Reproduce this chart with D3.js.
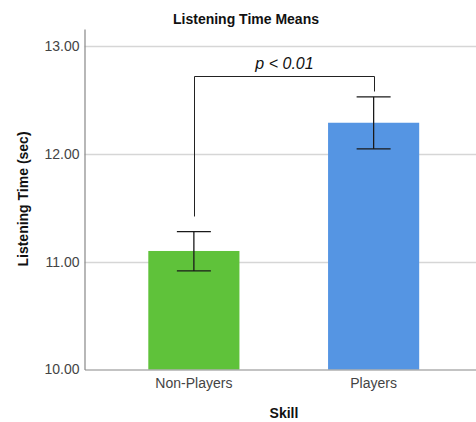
<!DOCTYPE html>
<html>
<head>
<meta charset="utf-8">
<script src="https://cdn.jsdelivr.net/npm/d3@7"></script>
<style>
  html, body { margin: 0; padding: 0; background: #fff; }
  svg { display: block; font-family: Arial, "Liberation Sans", sans-serif; }
</style>
</head>
<body>
<svg id="chart" width="476" height="422"></svg>
<script>
// Group means with 95% CI bounds (seconds)
const categories = ["Non-Players", "Players"];
const means = [11.10, 12.29];
const ciLow = [10.915, 12.047];
const ciHigh = [11.28, 12.53];
const colors = ["#5fc23a", "#5595e3"];
const yTicks = [10, 11, 12, 13];
// Significance bracket: foot heights for each group and the top bar height
const bracketFeet = [11.42, 12.58];
const bracketTop = 12.725;
const bracketLabel = "p < 0.01";

const svg = d3.select("#chart");
const plotLeft = 84.5, plotBottom = 369.5, plotTop = 29;

const y = d3.scaleLinear().domain([10, 13.16]).range([plotBottom, plotTop]);
const x = d3.scaleBand().domain(categories).range([plotLeft, 483])
  .paddingInner(0.493).paddingOuter(0.355);

// gridlines
svg.append("g").selectAll("line").data(yTicks.filter(t => t > 10)).join("line")
  .attr("x1", plotLeft).attr("x2", 476)
  .attr("y1", d => Math.round(y(d)) + 0.5).attr("y2", d => Math.round(y(d)) + 0.5)
  .attr("stroke", "#d6d6d6").attr("stroke-width", 1.5);

// bars
svg.append("g").selectAll("rect").data(categories).join("rect")
  .attr("x", d => x(d))
  .attr("width", x.bandwidth())
  .attr("y", (d, i) => y(means[i]))
  .attr("height", (d, i) => y(10) - y(means[i]))
  .attr("fill", (d, i) => colors[i]);

// y axis
const yAxis = svg.append("g").attr("transform", `translate(${plotLeft},0)`)
  .call(d3.axisLeft(y).tickValues(yTicks).tickFormat(d3.format(".2f")).tickSize(0).tickPadding(5));
yAxis.select(".domain").attr("stroke", "#888").attr("stroke-width", 1.2);
yAxis.selectAll("text").attr("font-size", 14).attr("fill", "#444")
  .attr("font-family", "Arial, 'Liberation Sans', sans-serif");

// x axis
const xAxis = svg.append("g").attr("transform", `translate(0,${plotBottom})`)
  .call(d3.axisBottom(x).tickSize(0).tickPadding(9));
xAxis.select(".domain").attr("stroke", "#888").attr("stroke-width", 1.2);
xAxis.selectAll("text").attr("font-size", 14).attr("fill", "#444")
  .attr("font-family", "Arial, 'Liberation Sans', sans-serif");

// error bars
const cap = 17;
const eb = svg.append("g").attr("stroke", "#1a1a1a").attr("stroke-width", 1.3);
categories.forEach((c, i) => {
  const cx = x(c) + x.bandwidth() / 2;
  eb.append("line").attr("x1", cx).attr("x2", cx).attr("y1", y(ciLow[i])).attr("y2", y(ciHigh[i]));
  eb.append("line").attr("x1", cx - cap).attr("x2", cx + cap).attr("y1", y(ciLow[i])).attr("y2", y(ciLow[i]));
  eb.append("line").attr("x1", cx - cap).attr("x2", cx + cap).attr("y1", y(ciHigh[i])).attr("y2", y(ciHigh[i]));
});

// significance bracket
const bx = categories.map(c => Math.round(x(c) + x.bandwidth() / 2) + 0.5);
svg.append("path")
  .attr("d", `M${bx[0]},${y(bracketFeet[0])}V${Math.round(y(bracketTop)) + 0.5}H${bx[1]}V${y(bracketFeet[1])}`)
  .attr("fill", "none").attr("stroke", "#222").attr("stroke-width", 1);
svg.append("text")
  .attr("x", (bx[0] + bx[1]) / 2).attr("y", y(bracketTop) - 7)
  .attr("text-anchor", "middle").attr("font-size", 16).attr("font-style", "italic")
  .attr("fill", "#111").text(bracketLabel);

// titles
svg.append("text").attr("x", 246).attr("y", 24).attr("text-anchor", "middle")
  .attr("font-size", 14).attr("font-weight", "bold").attr("fill", "#111")
  .text("Listening Time Means");
svg.append("text").attr("transform", "translate(28,199) rotate(-90)")
  .attr("text-anchor", "middle").attr("font-size", 14).attr("font-weight", "bold").attr("fill", "#111")
  .text("Listening Time (sec)");
svg.append("text").attr("x", 284).attr("y", 418).attr("text-anchor", "middle")
  .attr("font-size", 14).attr("font-weight", "bold").attr("fill", "#111")
  .text("Skill");
</script>
</body>
</html>
